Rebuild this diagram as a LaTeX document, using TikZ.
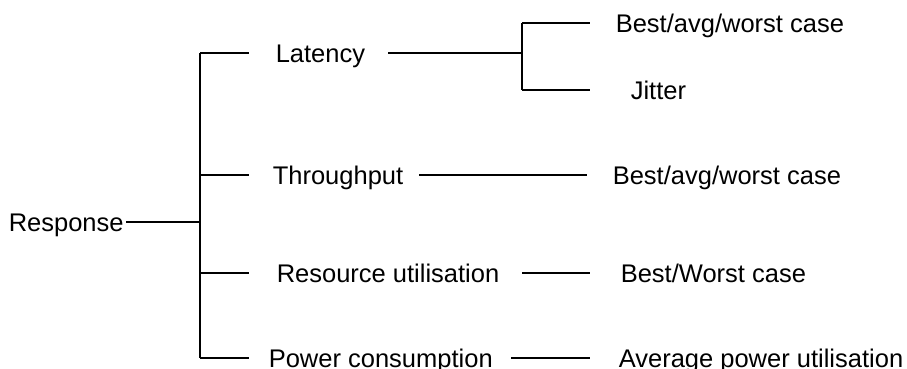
\documentclass[tikz,border=0pt]{standalone}
\usepackage{fontspec}
\setmainfont{Liberation Sans}
\begin{document}
\begin{tikzpicture}[x=1pt,y=-1pt,line width=1.6pt,
  lbl/.style={inner sep=0pt,anchor=west,font=\fontsize{25.5}{30}\selectfont,text height=18.3pt,text depth=0pt},
  conn/.style={draw=black,line cap=butt}]
\useasboundingbox (0,0) rectangle (907,369);
% text nodes
\node[lbl] (resp) at (8,222) {Response};
\node[lbl] (lat) at (275,53) {Latency};
\node[lbl] (thr) at (272,175) {Throughput};
\node[lbl] (res) at (276,273) {Resource utilisation};
\node[lbl] (pow) at (268,358) {Power consumption};
\node[lbl] (latb) at (615,23) {Best/avg/worst case};
\node[lbl] (jit) at (630,90) {Jitter};
\node[lbl] (thrb) at (612,175) {Best/avg/worst case};
\node[lbl] (resb) at (620,273) {Best/Worst case};
\node[lbl] (powb) at (618,358) {Average power utilisation};
% junction coordinates
\coordinate (r0) at (126,222);
\coordinate (j) at (200,222);
\coordinate (t1) at (200,53);
\coordinate (t2) at (200,175);
\coordinate (t3) at (200,273);
\coordinate (t4) at (200,358);
\coordinate (b1) at (249,53);
\coordinate (b2) at (249,175);
\coordinate (b3) at (249,273);
\coordinate (b4) at (249,358);
\coordinate (l0) at (388,53);
\coordinate (f) at (522,53);
\coordinate (f1) at (522,23);
\coordinate (f2) at (522,90);
\coordinate (g1) at (590,23);
\coordinate (g2) at (590,90);
\coordinate (h0) at (419,175);
\coordinate (h1) at (587,175);
\coordinate (s0) at (522,273);
\coordinate (s1) at (590,273);
\coordinate (p0) at (511,358);
\coordinate (p1) at (590,358);
% connectors
\draw[conn,line width=2.2pt] (r0) -- (j);
\draw[conn] (t1) -- (t4);
\draw[conn] (t1) -- (b1);
\draw[conn] (t2) -- (b2);
\draw[conn] (t3) -- (b3);
\draw[conn] (t4) -- (b4);
\draw[conn] (l0) -- (f);
\draw[conn] (f1) -- (f2);
\draw[conn] (f1) -- (g1);
\draw[conn] (f2) -- (g2);
\draw[conn] (h0) -- (h1);
\draw[conn] (s0) -- (s1);
\draw[conn] (p0) -- (p1);
\end{tikzpicture}
\end{document}
